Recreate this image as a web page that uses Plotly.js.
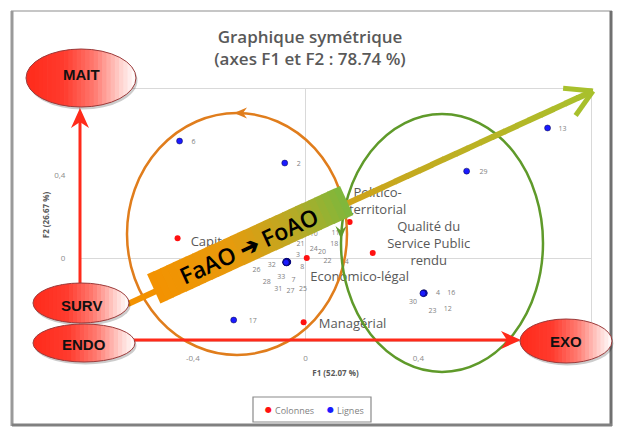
<!DOCTYPE html>
<html><head><meta charset="utf-8">
<script src="https://cdn.plot.ly/plotly-3.0.1.min.js"></script>
<style>html,body{margin:0;padding:0;background:#fff}#chart{width:622px;height:432px}</style>
</head><body><div id="chart"></div>
<script>
// ---- DATA ----
// Colonnes (red modalities)
const colNames  = ['Capital','Politico-territorial','Qualité du Service Public rendu','Economico-légal','Managérial'];
const colLabels = ['Capital','Politico-<br>territorial','Qualité du<br>Service Public<br>rendu','Economico-légal','Managérial'];
const colF1 = [-0.454, 0.156, 0.238, 0.004, -0.007];
const colF2 = [ 0.096, 0.174, 0.024, 0.000, -0.309];

// Lignes (blue observations)
const rowNames = ['2','3','4','6','7','8','10','11','12','13','14','16','17','18','20','21','22','23','24','25','26','27','28','29','30','31','32','33'];
const rowF1 = [-0.074,-0.066,0.420,-0.447,-0.068,-0.065,-0.067,-0.064,0.419,0.858,-0.063,0.421,-0.255,-0.065,-0.066,-0.068,-0.064,0.418,-0.067,-0.066,-0.071,-0.068,-0.070,0.571,0.416,-0.069,-0.070,-0.069];
const rowF2 = [0.458,-0.017,-0.168,0.564,-0.021,-0.020,-0.016,-0.018,-0.167,0.627,-0.019,-0.170,-0.299,-0.017,-0.019,-0.016,-0.020,-0.172,-0.018,-0.023,-0.020,-0.023,-0.022,0.419,-0.170,-0.023,-0.018,-0.021];

// Axis ticks (the others are hidden under the ellipses in the reference)
const xTickVals = [-0.4,0,0.4];
const xTickText = ['-0,4','0','0,4'];
const yTickVals = [0,0.4];
const yTickText = ['0','0,4'];

// Legend entries
const legendNames = ['Colonnes','Lignes'];

// ---- STYLE (label offsets in px, centre of text relative to point) ----
const colLabelOffset = [[34,5],[28,-20],[56,-8],[53,20],[49,3]];
const rowLabelOffset = [[14,1],[11,-6],[14,0],[14,1],[7,18],[15,5],[27,-27],[48,-29],[24,17],[15,1],[57,0],[27,0],[19,1],[47,-17],[35,-10],[14,-17],[40,-1],[9,18],[27,-13],[16,26],[-29,8],[4,28],[-19,20],[17,1],[-10,9],[-8,26],[-14,3],[-5,15]];

const XR=[-0.8,1.012], YR=[-0.4,0.815];
const L=80,R=591,T=89,B=341;
const SX=(R-L)/(XR[1]-XR[0]), SY=(B-T)/(YR[1]-YR[0]);
const colLX = colF1.map((v,i)=>v+colLabelOffset[i][0]/SX);
const colLY = colF2.map((v,i)=>v-colLabelOffset[i][1]/SY);
const rowLX = rowF1.map((v,i)=>v+rowLabelOffset[i][0]/SX);
const rowLY = rowF2.map((v,i)=>v-rowLabelOffset[i][1]/SY);

// ---- decoration helpers (paper coords from pixel positions) ----
const PX=p=>(p-L)/(R-L), PY=p=>(B-p)/(B-T);
const shapes=[];
function line(x0,y0,x1,y1,color,width){shapes.push({type:'line',xref:'paper',yref:'paper',x0:PX(x0),y0:PY(y0),x1:PX(x1),y1:PY(y1),line:{color:color,width:width},layer:'above'});}
function poly(pts,fill,lc,lw){const d='M'+pts.map(p=>PX(p[0]).toFixed(5)+','+PY(p[1]).toFixed(5)).join('L')+'Z';shapes.push({type:'path',xref:'paper',yref:'paper',path:d,fillcolor:fill,line:{color:lc||'rgba(0,0,0,0)',width:lw||0},layer:'above'});}
function ell(cx,cy,rx,ry,fill,lc,lw){shapes.push({type:'circle',xref:'paper',yref:'paper',x0:PX(cx-rx),x1:PX(cx+rx),y0:PY(cy+ry),y1:PY(cy-ry),fillcolor:fill,line:{color:lc,width:lw},layer:'above'});}
function rect(x0,y0,x1,y1,fill,lc,lw){shapes.push({type:'rect',xref:'paper',yref:'paper',x0:PX(x0),x1:PX(x1),y0:PY(y1),y1:PY(y0),fillcolor:fill,line:{color:lc,width:lw},layer:'above'});}
function hex(c){return [parseInt(c.slice(1,3),16),parseInt(c.slice(3,5),16),parseInt(c.slice(5,7),16)];}
function colorAt(stops,t){for(let i=0;i<stops.length-1;i++){const a=stops[i],b=stops[i+1];if(t<=b[0]){const f=(t-a[0])/(b[0]-a[0]);const ca=hex(a[1]),cb=hex(b[1]);return 'rgb('+ca.map((v,k)=>Math.round(v+(cb[k]-v)*f)).join(',')+')';}}return stops[stops.length-1][1];}
function gradEllipse(cx,cy,rx,ry,stops,n){
  ell(cx+1.5,cy+2.5,rx,ry,'rgba(0,0,0,0.2)','rgba(0,0,0,0)',0);
  for(let i=0;i<n;i++){
    const xa=cx-rx+2*rx*i/n, xb=Math.min(cx+rx,cx-rx+2*rx*(i+1)/n+0.7);
    const pts=[],m=4;
    for(let k=0;k<=m;k++){const x=xa+(xb-xa)*k/m;const h=ry*Math.sqrt(Math.max(0,1-((x-cx)/rx)**2));pts.push([x,cy-h]);}
    for(let k=m;k>=0;k--){const x=xa+(xb-xa)*k/m;const h=ry*Math.sqrt(Math.max(0,1-((x-cx)/rx)**2));pts.push([x,cy+h]);}
    poly(pts,colorAt(stops,(i+0.5)/n));
  }
  ell(cx,cy,rx,ry,'rgba(0,0,0,0)','#9b3b3b',1);
}
const redStops=[[0,'#ff2a1a'],[0.35,'#ff3b2e'],[0.62,'#ff7a70'],[0.86,'#ffd2ce'],[1,'#ffffff']];

// frame
line(11,11,612,11,'#c6c6c6',2);
line(12,11,12,426,'#9a9a9a',3);
line(611,11,611,426,'#707070',3);
line(12,425,612,425,'#808080',3);

// orange & green ellipses
ell(237,234,110,121,'rgba(0,0,0,0)','#e07d1c',2.5);
poly([[234,113],[247,107.5],[243,113],[247,118.5]],'#e07d1c');
ell(442,243,101,129,'rgba(0,0,0,0)','#5f9a2a',2.5);
poly([[341,239],[335.5,226],[341,230.5],[346.5,226]],'#5f9a2a');

// red arrows
line(80,292,80,120,'#ff2a1a',3);
poly([[80,108],[71,128],[80,122],[89,128]],'#ff2a1a');
line(130,340,510,340,'#ff2a1a',3);
poly([[521,340],[501,331],[507,340],[501,349]],'#ff2a1a');

// diagonal arrow
const A=[128,304], Bt=[593,91];
const len=Math.hypot(Bt[0]-A[0],Bt[1]-A[1]);
const u=[(Bt[0]-A[0])/len,(Bt[1]-A[1])/len], nv=[-u[1],u[0]];
const P=s=>[A[0]+u[0]*s,A[1]+u[1]*s];
const s1=0.058*len, s2=0.473*len, half=16, boxShift=-3;
{const p=P(0),q=P(s1+2);line(p[0],p[1],q[0],q[1],'#f39200',6);}
const shaftStops=[[0,'#cfa21a'],[1,'#a8c02c']];
const NS=20, sEnd=len-4;
for(let i=0;i<NS;i++){const a=s2-2+(sEnd-s2+2)*i/NS, b=s2-2+(sEnd-s2+2)*(i+1)/NS+1;const p=P(a),q=P(Math.min(b,sEnd));line(p[0],p[1],q[0],q[1],colorAt(shaftStops,(i+0.5)/NS),6);}
function rot(v,deg){const r=deg*Math.PI/180;return [v[0]*Math.cos(r)-v[1]*Math.sin(r),v[0]*Math.sin(r)+v[1]*Math.cos(r)];}
{const back=[-u[0],-u[1]];const b1=rot(back,30),b2=rot(back,-30);
 line(Bt[0],Bt[1],Bt[0]+b1[0]*30,Bt[1]+b1[1]*30,'#a8c02c',5);
 line(Bt[0],Bt[1],Bt[0]+b2[0]*30,Bt[1]+b2[1]*30,'#a8c02c',5);}
const boxStops=[[0,'#f39200'],[0.4,'#e89a0c'],[0.72,'#bba924'],[1,'#7cb83c']];
const NB=30;
for(let i=0;i<NB;i++){const a=s1+(s2-s1)*i/NB, b=Math.min(s2,s1+(s2-s1)*(i+1)/NB+0.8);const p=P(a),q=P(b);
  const lo=boxShift-half, hi=boxShift+half;
  poly([[p[0]+nv[0]*lo,p[1]+nv[1]*lo],[q[0]+nv[0]*lo,q[1]+nv[1]*lo],[q[0]+nv[0]*hi,q[1]+nv[1]*hi],[p[0]+nv[0]*hi,p[1]+nv[1]*hi]],colorAt(boxStops,(i+0.5)/NB));}

// red ellipses
gradEllipse(81,78,55,29,redStops,26);
gradEllipse(81,303,48,20,redStops,24);
gradEllipse(84,343,51,19,redStops,24);
gradEllipse(566,341,46,22,redStops,24);

// legend box (drawn manually to match the compact Excel legend)
rect(253,397,371,422,'rgba(255,255,255,0)','#8a8a8a',1.2);

const boxMid=P((s1+s2)/2); const boxC=[boxMid[0]+nv[0]*boxShift,boxMid[1]+nv[1]*boxShift];
const angle=Math.atan2(-u[1],u[0])*180/Math.PI;
const annFont={family:'Liberation Sans, Arial, sans-serif',size:15,color:'#111',weight:'bold'};
function ann(text,x,y,font,extra){return Object.assign({text:text,x:PX(x),y:PY(y),xref:'paper',yref:'paper',xanchor:'center',yanchor:'middle',showarrow:false,font:font},extra||{});}
const legFont={family:'Open Sans, sans-serif',size:9,color:'#7f7f7f'};
const annotations=[
  ann('MAIT',81,74,annFont),
  ann('SURV',81,305,annFont),
  ann('ENDO',84,344,annFont),
  ann('EXO',566,341,annFont),
  ann('FaAO \u2794 FoAO',boxC[0]-2,boxC[1]+1,{family:'Open Sans, sans-serif',size:23,color:'#000',weight:600},{textangle:-angle}),
  ann('\u25CF',268,409.5,{family:'DejaVu Sans, sans-serif',size:8,color:'#ff1010'}),
  ann(legendNames[0],273,410,legFont,{xanchor:'left'}),
  ann('\u25CF',330,409.5,{family:'DejaVu Sans, sans-serif',size:8,color:'#1a1aff'}),
  ann(legendNames[1],335,410,legFont,{xanchor:'left'})
];

const traces=[
  {type:'scatter',mode:'markers',name:legendNames[0],x:colF1,y:colF2,text:colNames,hoverinfo:'text',
   marker:{color:'#ff1010',size:6}},
  {type:'scatter',mode:'markers',name:legendNames[1],x:rowF1,y:rowF2,text:rowNames,hoverinfo:'text',
   marker:{color:'#1a1aff',size:6,line:{color:'rgba(0,0,50,0.45)',width:1}}},
  {type:'scatter',mode:'text',x:colLX,y:colLY,text:colLabels,textposition:'middle center',showlegend:false,hoverinfo:'skip',cliponaxis:false,
   textfont:{family:'Open Sans, sans-serif',size:13,color:'#595959'}},
  {type:'scatter',mode:'text',x:rowLX,y:rowLY,text:rowNames,textposition:'middle center',showlegend:false,hoverinfo:'skip',cliponaxis:false,
   textfont:{family:'Open Sans, sans-serif',size:7,color:'#7f7f7f'}}
];

const axBase={showgrid:false,zeroline:true,zerolinecolor:'#d9d9d9',zerolinewidth:1,showline:true,mirror:true,linecolor:'#d9d9d9',linewidth:1,ticks:'',automargin:false,
  tickfont:{family:'Open Sans, sans-serif',size:8,color:'#8c8c8c'},fixedrange:true};
const layout={
  width:622,height:432,paper_bgcolor:'#fff',plot_bgcolor:'#fff',
  margin:{l:L,r:622-R,t:T,b:432-B},
  title:{text:'Graphique symétrique<br>(axes F1 et F2 : 78.74 %)',x:0.4984,xref:'container',y:0.9004,yref:'container',yanchor:'top',
    font:{family:'Open Sans, sans-serif',size:17,color:'#595959',weight:600}},
  xaxis:Object.assign({},axBase,{range:XR,tickvals:xTickVals,ticktext:xTickText,ticklabelstandoff:9,
    title:{text:'F1 (52.07 %)',standoff:8,font:{family:'Open Sans, sans-serif',size:8,color:'#595959',weight:'bold'}}}),
  yaxis:Object.assign({},axBase,{range:YR,tickvals:yTickVals,ticktext:yTickText,ticklabelstandoff:12,
    title:{text:'F2 (26.67 %)',standoff:3,font:{family:'Open Sans, sans-serif',size:8,color:'#595959',weight:'bold'}}}),
  showlegend:false,
  shapes:shapes,annotations:annotations
};
Plotly.newPlot('chart',traces,layout,{displayModeBar:false,staticPlot:true});
</script></body></html>
